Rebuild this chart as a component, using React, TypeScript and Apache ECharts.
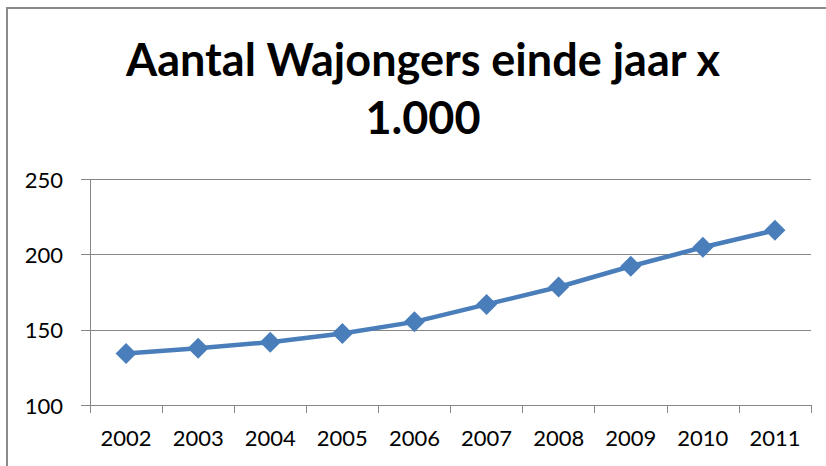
import React, { useEffect, useRef } from "react";
import * as echarts from "echarts";

const years = ["2002", "2003", "2004", "2005", "2006", "2007", "2008", "2009", "2010", "2011"];
const wajongers = [134.3, 137.8, 141.8, 147.6, 155.3, 166.9, 178.5, 192.3, 204.9, 216.2];
const titleLines = ["Aantal Wajongers einde jaar x", "1.000"];
const yMin = 100;
const yMax = 250;
const yStep = 50;

export default function App() {
  const ref = useRef<HTMLDivElement>(null);
  useEffect(() => {
    if (!ref.current) return;
    const chart = echarts.init(ref.current, null, { renderer: "svg" });
    const gray = "#868686";
    chart.setOption({
      animation: false,
      backgroundColor: "#ffffff",
      grid: { left: 90, right: 15, top: 179.5, bottom: 61, containLabel: false },
      graphic: [
        {
          type: "rect",
          shape: { x: 7, y: 8, width: 840, height: 480 },
          style: { fill: "none", stroke: "#8a8a8a", lineWidth: 2 },
          silent: true,
        },
        {
          type: "text",
          x: 423,
          y: 59,
          style: {
            text: titleLines[0],
            font: "bold 45px Lato",
            fill: "#000",
            textAlign: "center",
            textVerticalAlign: "middle",
          },
        },
        {
          type: "text",
          x: 423,
          y: 117,
          style: {
            text: titleLines[1],
            font: "bold 45px Lato",
            fill: "#000",
            textAlign: "center",
            textVerticalAlign: "middle",
          },
        },
      ],
      xAxis: {
        type: "category",
        data: years,
        boundaryGap: true,
        axisLine: { show: true, lineStyle: { color: gray, width: 1 } },
        axisTick: { show: true, length: 8, inside: false, alignWithLabel: false, lineStyle: { color: gray } },
        axisLabel: { color: "#000", fontFamily: "Lato", fontSize: 22, margin: 21 },
        splitLine: { show: false },
      },
      yAxis: {
        type: "value",
        min: yMin,
        max: yMax,
        interval: yStep,
        axisLine: { show: true, lineStyle: { color: gray, width: 1 } },
        axisTick: { show: true, length: 9, lineStyle: { color: gray } },
        axisLabel: { color: "#000", fontFamily: "Lato", fontSize: 22, margin: 27 },
        splitLine: { show: true, lineStyle: { color: gray, width: 1 } },
      },
      series: [
        {
          type: "line",
          data: wajongers,
          symbol: "diamond",
          symbolSize: 21,
          lineStyle: { color: "#4a7ebb", width: 4.5 },
          itemStyle: { color: "#4a7ebb" },
        },
      ],
    });
    return () => chart.dispose();
  }, []);
  return (
    <div
      ref={ref}
      style={{ position: "absolute", left: 0, top: 0, width: 826, height: 466, overflow: "hidden" }}
    />
  );
}
